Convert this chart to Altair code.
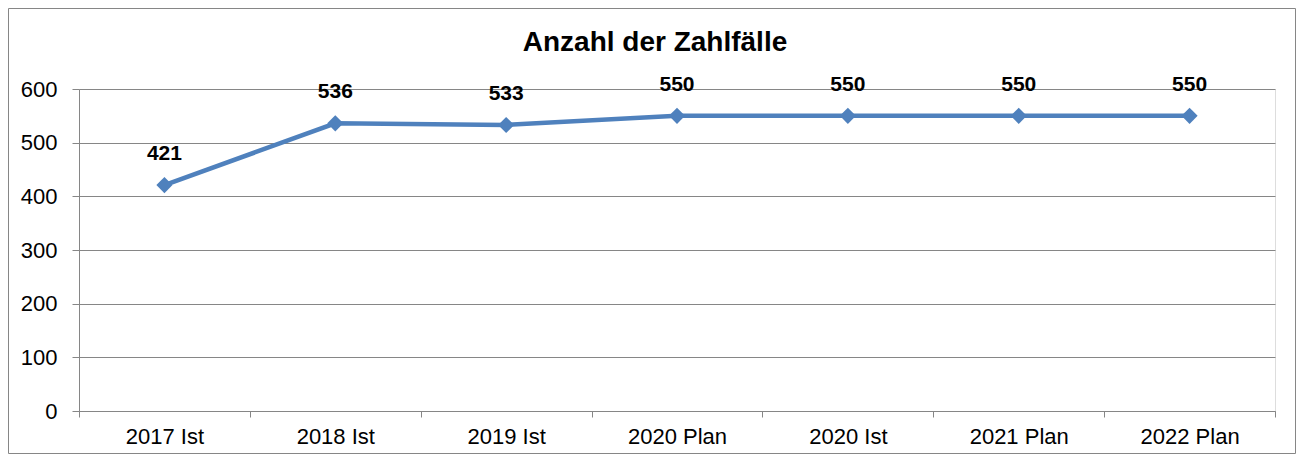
import altair as alt
import pandas as pd

categories = ["2017 Ist", "2018 Ist", "2019 Ist", "2020 Plan", "2020 Ist", "2021 Plan", "2022 Plan"]
values = [421, 536, 533, 550, 550, 550, 550]
y_ticks = [0, 100, 200, 300, 400, 500, 600]
title_text = "Anzahl der Zahlfälle"

df = pd.DataFrame({"Kategorie": categories, "Anzahl": values})

W, H = 1196, 322
PL, PT, PR, PB = 71, 81, 21, 43
FONT = "Liberation Sans"
BLUE = "#4F81BD"
GRAY = "#868686"

x_enc = alt.X(
    "Kategorie:N",
    sort=categories,
    bandPosition=0.5,
    scale=alt.Scale(type="band", paddingInner=0, paddingOuter=0),
    axis=alt.Axis(
        title=None, labelAngle=0, tickBand="extent", tickSize=6, labelPadding=9,
        domainColor=GRAY, tickColor=GRAY, labelFont=FONT, labelFontSize=22,
        labelColor="black", grid=False,
    ),
)
y_enc = alt.Y(
    "Anzahl:Q",
    scale=alt.Scale(domain=[0, 600], nice=False),
    axis=alt.Axis(
        title=None, values=y_ticks, tickSize=7, labelPadding=15,
        domainColor=GRAY, tickColor=GRAY, grid=True, gridColor=GRAY, gridWidth=1,
        labelFont=FONT, labelFontSize=22, labelColor="black",
    ),
)

base = alt.Chart(df).encode(x=x_enc, y=y_enc)

line = base.mark_line(color=BLUE, strokeWidth=4.5)
points = base.mark_point(shape="diamond", filled=True, size=260, color=BLUE, opacity=1)
labels = base.mark_text(
    font=FONT, fontSize=21, fontWeight="bold", color="black", dy=-25, baseline="alphabetic"
).encode(text=alt.Text("Anzahl:Q"))

frame = alt.Chart(alt.Data(values=[{}])).mark_rect(
    filled=False, color=GRAY, strokeWidth=1
).encode(
    x=alt.value(-PL + 0.5), x2=alt.value(W + PR - 0.5),
    y=alt.value(-PT + 0.5), y2=alt.value(H + PB - 0.5),
)

chart = alt.layer(frame, line, points, labels).properties(
    width=W,
    height=H,
    padding={"left": PL, "top": PT, "right": PR, "bottom": PB},
    autosize=alt.AutoSizeParams(type="none"),
    title=alt.TitleParams(
        title_text, font=FONT, fontSize=28, fontWeight="bold", color="black",
        anchor="middle", frame="group", dx=-22, baseline="alphabetic", offset=-71,
    ),
).configure_view(stroke=None).configure(background="white")

chart.save("out.html", embed_options={"renderer": "svg", "actions": False})
